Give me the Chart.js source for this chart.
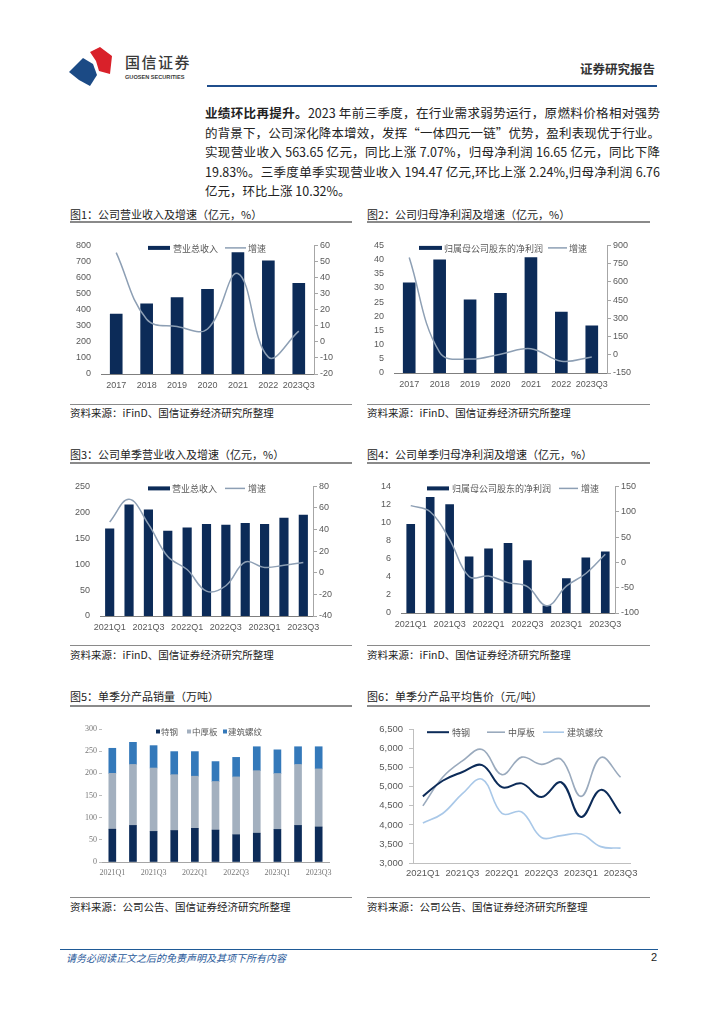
<!DOCTYPE html>
<html>
<head>
<meta charset="utf-8">
<script src="https://cdn.jsdelivr.net/npm/chart.js@4.4.1/dist/chart.umd.min.js"></script>
<style>
body { margin: 0; width: 724px; height: 1024px; position: relative; background: #fff; overflow: hidden;
       font-family: "Noto Sans CJK SC", sans-serif; color: #222; }
.a { position: absolute; white-space: nowrap; }
.ttl { font-size: 11px; line-height: 14px; color: #222; }
.src { font-size: 10.5px; line-height: 14px; color: #222; }
.uline { position: absolute; height: 0; border-top: 2px solid #8a8a8a; }
.sline { position: absolute; height: 0; border-top: 1px solid #8a8a8a; }
.para { position: absolute; left: 205px; width: 455px; font-size: 12.5px; line-height: 19.5px; color: #222; white-space: nowrap; }
.jl { text-align: justify; text-align-last: justify; }
canvas { position: absolute; }
</style>
</head>
<body>

<!-- header -->
<svg class="a" style="left:66px;top:44px" width="50" height="44" viewBox="0 0 50 44">
  <path d="M24 8 L34 3 L46 12 L44 30 L33 27 L30 17 Z" fill="#d9212a"/>
  <path d="M3 28 L17 14 L27 20 L31 31 L24 42 L13 36 Z" fill="#1b4a85"/>
</svg>
<div class="a" style="left:125px;top:53px;font-size:15px;line-height:18px;color:#3a3a3a;font-weight:500;letter-spacing:1.5px">国信证券</div>
<div class="a" style="left:125px;top:74px;font-size:5.6px;line-height:7px;color:#3a3a3a;font-weight:700;font-family:'Liberation Sans',sans-serif">GUOSEN SECURITIES</div>
<div class="a" style="left:580px;top:61px;font-size:12.5px;line-height:16px;color:#333;font-weight:700">证券研究报告</div>
<div class="a" style="left:207px;top:85px;width:450px;height:2px;background:#1f4e8c"></div>

<!-- paragraph -->
<div class="para jl" style="top:103px"><b>业绩环比再提升。</b>2023 年前三季度，在行业需求弱势运行，原燃料价格相对强势</div>
<div class="para jl" style="top:122.5px">的背景下，公司深化降本增效，发挥“一体四元一链”优势，盈利表现优于行业。</div>
<div class="para jl" style="top:142px">实现营业收入 563.65 亿元，同比上涨 7.07%，归母净利润 16.65 亿元，同比下降</div>
<div class="para jl" style="top:161.5px">19.83%。三季度单季实现营业收入 194.47 亿元,环比上涨 2.24%,归母净利润 6.76</div>
<div class="para" style="top:181px">亿元，环比上涨 10.32%。</div>

<!-- titles / sources -->
<div class="a ttl" style="left:70px;top:207px">图1：公司营业收入及增速（亿元，%）</div>
<div class="uline" style="left:70px;top:221px;width:282px"></div>
<div class="a ttl" style="left:367px;top:207px">图2：公司归母净利润及增速（亿元，%）</div>
<div class="uline" style="left:367px;top:221px;width:283px"></div>
<div class="sline" style="left:70px;top:404px;width:282px"></div>
<div class="a src" style="left:70px;top:406px">资料来源：iFinD、国信证券经济研究所整理</div>
<div class="sline" style="left:367px;top:404px;width:283px"></div>
<div class="a src" style="left:367px;top:406px">资料来源：iFinD、国信证券经济研究所整理</div>

<div class="a ttl" style="left:70px;top:447px">图3：公司单季营业收入及增速（亿元，%）</div>
<div class="uline" style="left:70px;top:462px;width:282px"></div>
<div class="a ttl" style="left:367px;top:447px">图4：公司单季归母净利润及增速（亿元，%）</div>
<div class="uline" style="left:367px;top:462px;width:283px"></div>
<div class="sline" style="left:70px;top:645px;width:282px"></div>
<div class="a src" style="left:70px;top:648px">资料来源：iFinD、国信证券经济研究所整理</div>
<div class="sline" style="left:367px;top:645px;width:283px"></div>
<div class="a src" style="left:367px;top:648px">资料来源：iFinD、国信证券经济研究所整理</div>

<div class="a ttl" style="left:70px;top:689px">图5：单季分产品销量（万吨）</div>
<div class="uline" style="left:70px;top:705px;width:282px"></div>
<div class="a ttl" style="left:367px;top:689px">图6：单季分产品平均售价（元/吨）</div>
<div class="uline" style="left:367px;top:705px;width:283px"></div>
<div class="sline" style="left:70px;top:897px;width:282px"></div>
<div class="a src" style="left:70px;top:900px">资料来源：公司公告、国信证券经济研究所整理</div>
<div class="sline" style="left:367px;top:897px;width:283px"></div>
<div class="a src" style="left:367px;top:900px">资料来源：公司公告、国信证券经济研究所整理</div>

<!-- footer -->
<div class="a" style="left:60px;top:949px;width:598px;height:1px;background:#1f5a96"></div>
<div class="a" style="left:66px;top:951px;font-size:10px;line-height:13px;color:#2a5a9a;font-style:italic">请务必阅读正文之后的免责声明及其项下所有内容</div>
<div class="a" style="left:651px;top:950px;font-size:11px;line-height:14px;color:#222;font-family:'Liberation Sans',sans-serif">2</div>

<canvas id="c1"></canvas>
<canvas id="c2"></canvas>
<canvas id="c3"></canvas>
<canvas id="c4"></canvas>
<canvas id="c5"></canvas>
<canvas id="c6"></canvas>

<script>
// 年度数据
const years = ['2017', '2018', '2019', '2020', '2021', '2022', '2023Q3'];
const revenue = [372, 437, 475, 527, 756, 704, 563.65];
const revenueGrowth = [55.5, 14, 9.5, 8, 42.5, -9.5, 6.7];
const profit = [31.8, 39.9, 25.8, 28.1, 40.7, 21.5, 16.65];
const profitGrowth = [800, 20, -35, 5, 50, -53, -18];

// 单季数据
const quarters = ['2021Q1', '2021Q2', '2021Q3', '2021Q4', '2022Q1', '2022Q2', '2022Q3', '2022Q4', '2023Q1', '2023Q2', '2023Q3'];
const qRevenue = [168, 214.5, 205, 164, 170, 177, 175.5, 179, 177, 189, 194.47];
const qRevenueGrowth = [47, 68, 45, 15, 3, -17, -12, 10, 5, 7, 9.5];
const qProfit = [9.8, 12.8, 12.0, 6.2, 7.1, 7.7, 5.8, 0.8, 3.8, 6.1, 6.76];
const qProfitGrowth = [112, 100, 45, -28, -27, -40, -48, -86, -47, -22, 16];

// 分产品销量（万吨）
const volSpecial = [74, 82.5, 69, 71, 76, 72, 61.5, 65, 73.5, 82.5, 79];
const volPlate = [126, 137.5, 143, 126, 117.5, 109.5, 130.5, 141, 126, 137.5, 131];
const volRebar = [56.5, 50, 50.5, 52, 55.5, 45, 44, 54, 53.5, 40, 50];

// 分产品平均售价（元/吨）
const priceSpecial = [4750, 5160, 5390, 5570, 4990, 5090, 4730, 5120, 4210, 4920, 4300];
const pricePlate = [4500, 5250, 5680, 5980, 5320, 5780, 5590, 5720, 4750, 5770, 5250];
const priceRebar = [4050, 4300, 4820, 5200, 4300, 4340, 3670, 3720, 3760, 3430, 3390];

const NAVY = '#0c2b58';
const LINE_GRAY = '#8d9fb4';
const TICK = '#595959';
const CJK = '"Noto Sans CJK SC", sans-serif';

Chart.defaults.font.family = '"Liberation Sans", Arial, sans-serif';
Chart.defaults.font.size = 9;
Chart.defaults.color = TICK;
Chart.defaults.animation = false;
Chart.defaults.plugins.legend.display = false;
Chart.defaults.plugins.tooltip.enabled = false;

// 图例画在绘图区内部
const boxLegend = {
    id: 'boxLegend',
    afterDraw(chart, args, o) {
        if (!o.items) return;
        const ctx = chart.ctx;
        const a = chart.chartArea;
        const y = a.top + o.dy;
        ctx.save();
        ctx.font = (o.size || 9) + 'px ' + CJK;
        ctx.textBaseline = 'middle';
        o.items.forEach(it => {
            const ds = chart.data.datasets[it.i];
            const x = a.left + it.x;
            if (it.kind === 'line') {
                ctx.strokeStyle = ds.borderColor;
                ctx.lineWidth = ds.borderWidth;
                ctx.beginPath();
                ctx.moveTo(x, y);
                ctx.lineTo(x + it.w, y);
                ctx.stroke();
            } else {
                ctx.fillStyle = ds.backgroundColor;
                ctx.fillRect(x, y - it.h / 2, it.w, it.h);
            }
            ctx.fillStyle = o.color || TICK;
            ctx.fillText(ds.label, a.left + it.tx, y + 0.5);
        });
        ctx.restore();
    }
};

// 按绘图区位置摆放画布
function place(id, p, wL, wR, hX, padR) {
    const c = document.getElementById(id);
    const padT = 10;
    const w = Math.round(p.r - p.l + wL + wR + padR);
    const h = Math.round(p.b - p.t + padT + hX);
    c.width = w; c.height = h;
    c.style.width = w + 'px'; c.style.height = h + 'px';
    c.style.left = (p.l - wL) + 'px';
    c.style.top = (p.t - padT) + 'px';
    return c;
}

const skipOdd = function (v, i) { return i % 2 ? '' : this.getLabelForValue(v); };

function xAxis(hX, opts) {
    return Object.assign({
        grid: { display: false, drawTicks: false },
        border: { display: true, color: '#7f7f7f', width: 1 },
        ticks: { padding: 6, autoSkip: false, maxRotation: 0 },
        afterFit: s => { s.height = hX; }
    }, opts || {});
}

function leftAxis(w, min, max, step, extra) {
    return Object.assign({
        position: 'left', min: min, max: max,
        grid: { display: false, drawTicks: false },
        border: { display: false },
        ticks: { stepSize: step, padding: 10 },
        afterFit: s => { s.width = w; }
    }, extra || {});
}

function rightAxis(w, min, max, step) {
    return {
        position: 'right', min: min, max: max,
        grid: { display: true, drawOnChartArea: false, drawTicks: true, tickLength: 4, color: '#a6a6a6' },
        border: { display: true, color: '#a6a6a6', width: 1 },
        ticks: { stepSize: step, padding: 2 },
        afterFit: s => { s.width = w; }
    };
}

function comboChart(id, p, labels, bars, barLabel, growth, barW, y, y1, legend, skip) {
    const wL = 40, wR = 32, hX = 20;
    const c = place(id, p, wL, wR, hX, 0);
    return new Chart(c, {
        type: 'bar',
        data: {
            labels: labels,
            datasets: [
                { type: 'bar', label: barLabel, data: bars, backgroundColor: NAVY, barThickness: barW, yAxisID: 'y', order: 2 },
                { type: 'line', label: '增速', data: growth, borderColor: LINE_GRAY, borderWidth: 1.5, pointRadius: 0, tension: 0.4, yAxisID: 'y1', order: 1 }
            ]
        },
        options: {
            responsive: false,
            layout: { padding: { top: 10, left: 0, right: 0, bottom: 0 } },
            scales: {
                x: xAxis(hX, skip ? { ticks: { padding: 6, autoSkip: false, maxRotation: 0, callback: skipOdd } } : {}),
                y: leftAxis(wL, y[0], y[1], y[2]),
                y1: rightAxis(wR, y1[0], y1[1], y1[2])
            },
            plugins: { boxLegend: legend }
        },
        plugins: [boxLegend]
    });
}

// 图1
comboChart('c1', { l: 101, r: 314, t: 240, b: 374 }, years, revenue, '营业总收入', revenueGrowth, 12,
    [0, 800, 100], [-20, 60, 10],
    { dy: 2.5, items: [{ i: 0, x: 47, w: 22, h: 4, tx: 72 }, { i: 1, kind: 'line', x: 124, w: 21, tx: 147 }] }, false);

// 图2
comboChart('c2', { l: 394, r: 607, t: 240, b: 373 }, years, profit, '归属母公司股东的净利润', profitGrowth, 12,
    [0, 45, 5], [-150, 900, 150],
    { dy: 2.5, items: [{ i: 0, x: 25, w: 23, h: 4, tx: 50 }, { i: 1, kind: 'line', x: 154, w: 19, tx: 175 }] }, false);

// 图3
comboChart('c3', { l: 100.3, r: 313.4, t: 481, b: 615.5 }, quarters, qRevenue, '营业总收入', qRevenueGrowth, 8.5,
    [0, 250, 50], [-40, 80, 20],
    { dy: 2, items: [{ i: 0, x: 48, w: 22, h: 4, tx: 72 }, { i: 1, kind: 'line', x: 125, w: 20, tx: 148 }] }, true);

// 图4
comboChart('c4', { l: 401, r: 614.7, t: 481, b: 613 }, quarters, qProfit, '归属母公司股东的净利润', qProfitGrowth, 8,
    [0, 14, 2], [-100, 150, 50],
    { dy: 2, items: [{ i: 0, x: 26, w: 22, h: 4, tx: 51 }, { i: 1, kind: 'line', x: 158, w: 19, tx: 180 }] }, true);

// 图5 堆积柱
(function () {
    const p = { l: 102.4, r: 329.3, t: 729.3, b: 862.7 };
    const wL = 36, hX = 20;
    const c = place('c5', p, wL, 0, hX, 12);
    new Chart(c, {
        type: 'bar',
        data: {
            labels: quarters,
            datasets: [
                { label: '特钢', data: volSpecial, backgroundColor: '#0c2b58', barThickness: 7 },
                { label: '中厚板', data: volPlate, backgroundColor: '#a3b0bf', barThickness: 7 },
                { label: '建筑螺纹', data: volRebar, backgroundColor: '#3479ba', barThickness: 7 }
            ]
        },
        options: {
            responsive: false,
            layout: { padding: { top: 10, left: 0, right: 12, bottom: 0 } },
            scales: {
                x: xAxis(hX, {
                    stacked: true,
                    border: { display: true, color: '#a6a6a6', width: 1 },
                    ticks: { padding: 6, autoSkip: false, maxRotation: 0, callback: skipOdd, color: '#777',
                             font: { family: '"Liberation Serif", serif', size: 8 } }
                }),
                y: leftAxis(wL, 0, 300, 50, {
                    stacked: true,
                    grid: { display: true, drawOnChartArea: false, drawTicks: true, tickLength: 3, color: '#bfbfbf' },
                    ticks: { stepSize: 50, padding: 2, color: '#777', font: { family: '"Liberation Serif", serif', size: 8 } }
                })
            },
            plugins: {
                boxLegend: {
                    dy: 2.5, size: 8.5, items: [
                        { i: 0, x: 54, w: 4, h: 4, tx: 59 },
                        { i: 1, x: 85, w: 4, h: 4, tx: 90 },
                        { i: 2, x: 121, w: 4, h: 4, tx: 126 }
                    ]
                }
            }
        },
        plugins: [boxLegend]
    });
})();

// 图6 折线
(function () {
    const p = { l: 413.4, r: 631.6, t: 728.3, b: 863.3 };
    const wL = 46, hX = 20;
    const c = place('c6', p, wL, 0, hX, 12);
    const line = (label, data, color, w) => ({ label: label, data: data, borderColor: color, borderWidth: w, pointRadius: 0, tension: 0.4 });
    new Chart(c, {
        type: 'line',
        data: {
            labels: quarters,
            datasets: [
                line('特钢', priceSpecial, '#0c2b58', 2),
                line('中厚板', pricePlate, '#9aaabd', 1.6),
                line('建筑螺纹', priceRebar, '#a9c8e8', 1.6)
            ]
        },
        options: {
            responsive: false,
            layout: { padding: { top: 10, left: 0, right: 12, bottom: 0 } },
            scales: {
                x: xAxis(hX, {
                    offset: true,
                    border: { display: true, color: '#bfbfbf', width: 1 },
                    ticks: { padding: 5, autoSkip: false, maxRotation: 0, callback: skipOdd, font: { size: 9.5 } }
                }),
                y: leftAxis(wL, 3000, 6500, 500, {
                    grid: { display: true, drawOnChartArea: false, drawTicks: true, tickLength: 4, color: '#bfbfbf' },
                    border: { display: true, color: '#bfbfbf', width: 1 },
                    ticks: { stepSize: 500, padding: 6, font: { size: 9.5 }, callback: v => v.toLocaleString('en-US') }
                })
            },
            plugins: {
                boxLegend: {
                    dy: 2.5, size: 9, items: [
                        { i: 0, kind: 'line', x: 14, w: 22, tx: 39 },
                        { i: 1, kind: 'line', x: 74, w: 18, tx: 95 },
                        { i: 2, kind: 'line', x: 130, w: 21, tx: 154 }
                    ]
                }
            }
        },
        plugins: [boxLegend]
    });
})();
</script>
</body>
</html>
